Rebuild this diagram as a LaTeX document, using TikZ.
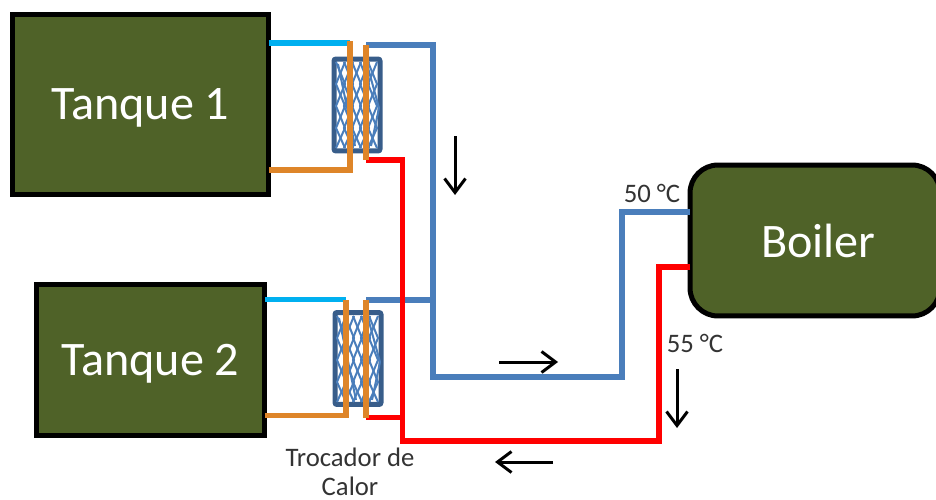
\documentclass[tikz,border=0pt]{standalone}
\usepackage{fontspec}
\setmainfont{Carlito}
\usepackage{tikz}
\usetikzlibrary{calc,arrows.meta}
\definecolor{tankolive}{HTML}{4F6228}
\definecolor{pipeblue}{HTML}{4A7EBB}
\definecolor{pipecyan}{HTML}{00B0F0}
\definecolor{pipeorange}{HTML}{DE8529}
\definecolor{hxblue}{HTML}{385D8A}
\definecolor{labelgray}{HTML}{333333}
\tikzset{
	tank/.style={draw=black, fill=tankolive, line width=0.1cm, text=white, inner sep=0, outer sep=0, font=\fontsize{27.4}{27.4}\selectfont},
	lowtext/.style={text height=0.7cm, text depth=0.08cm},
	hxbox/.style={draw=hxblue, fill=white, line width=0.1cm, rounded corners=0.04cm, inner sep=0, minimum width=0.92cm, minimum height=1.84cm},
	pipe/.style={line width=0.11cm, line join=miter},
	flow/.style={-{Straight Barb[length=0.28cm, width=0.42cm]}, line width=0.06cm, black},
	templabel/.style={text=labelgray, inner sep=0, font=\fontsize{15.2}{15.2}\selectfont}
}
\def\hxcoil(#1,#2){
	\foreach \a in {3,11,...,35}{
		\draw[pipeblue, line width=0.04cm] ($(#1,#2)+(\a,4)$) -- ($(#1,#2)+(\a+9,26)$) -- ($(#1,#2)+(\a,48)$) -- ($(#1,#2)+(\a+9,70)$) -- ($(#1,#2)+(\a,90)$);
		\draw[pipeblue, line width=0.04cm] ($(#1,#2)+(\a+9,4)$) -- ($(#1,#2)+(\a,26)$) -- ($(#1,#2)+(\a+9,48)$) -- ($(#1,#2)+(\a,70)$) -- ($(#1,#2)+(\a+9,90)$);
	}
	\draw[pipeblue, line width=0.04cm] ($(#1,#2)+(5,6)$) -- ($(#1,#2)+(22,88)$);
	\draw[pipeblue, line width=0.04cm] ($(#1,#2)+(34,6)$) -- ($(#1,#2)+(46,50)$) -- ($(#1,#2)+(38,88)$);
}

\begin{document}
\begin{tikzpicture}[x=0.02cm, y=-0.02cm]
	%%%%% START %%%%%
	\useasboundingbox (0, 0) rectangle (936, 500);

	\node[tank, lowtext, minimum width=5.14cm, minimum height=3.62cm] (tank1) at (140.5, 104.5) {Tanque 1};
	\node[tank, lowtext, minimum width=4.58cm, minimum height=3.04cm] (tank2) at (150.5, 360) {Tanque 2};
	\node[tank, rounded corners=0.56cm, minimum width=5.0cm, minimum height=3.02cm] (boiler) at (815, 240.5) {\hspace*{0.14cm}Boiler};

	\node[hxbox] (hx1) at (357, 105) {};
	\node[hxbox] (hx2) at (358, 358.5) {};
	\hxcoil(333,58)
	\hxcoil(334,312)

	\coordinate (c1in) at (350, 43);
	\coordinate (c1out) at (350, 170);
	\coordinate (h1top) at (366, 45);
	\coordinate (h1bot) at (366, 160);
	\coordinate (c2in) at (346, 299.5);
	\coordinate (c2out) at (346, 415.5);
	\coordinate (h2top) at (366, 300);
	\coordinate (h2bot) at (366, 417.5);
	\coordinate (bluetee) at (433, 300);
	\coordinate (redtee) at (402.5, 417.5);
	\coordinate (bluelow) at (433, 377);
	\coordinate (redlow) at (402.5, 441);

	% cold side
	\draw[pipe, pipecyan] (tank1.east |- c1in) -- (c1in);
	\draw[pipe, pipecyan] (tank2.east |- c2in) -- (c2in);

	% return line
	\draw[pipe, pipeblue] (h1top) -- (bluetee |- h1top) -- (bluelow) -- (622, 377) -- (622, 212) -- (boiler.west |- 0, 212);
	\draw[pipe, pipeblue] (h2top) -- (bluetee);

	% supply line
	\draw[pipe, red] (boiler.west |- 0, 267) -- (659, 267) -- (659, 441) -- (redlow) -- (402.5, 160) -- (h1bot);
	\draw[pipe, red] (redtee) -- (h2bot);

	% orange loops
	\draw[pipe, pipeorange] (tank1.east |- c1out) -- (c1out) -- (350, 41);
	\draw[pipe, pipeorange] (tank2.east |- c2out) -- (c2out) -- (346, 300);
	\draw[pipe, pipeorange] (h1top) -- (h1bot);
	\draw[pipe, pipeorange] (h2top) -- (h2bot);

	\coordinate (f1a) at (455, 136);
	\coordinate (f1b) at (455, 195);
	\coordinate (f2a) at (499, 362);
	\coordinate (f2b) at (558, 362);
	\coordinate (f3a) at (553, 462);
	\coordinate (f3b) at (495, 462);
	\coordinate (f4a) at (677, 369);
	\coordinate (f4b) at (677, 428);
	\draw[flow] (f1a) -- (f1b);
	\draw[flow] (f2a) -- (f2b);
	\draw[flow] (f3a) -- (f3b);
	\draw[flow] (f4a) -- (f4b);

	\node[templabel] (t50) at (652, 193) {50 °C};
	\node[templabel] (t55) at (695, 343) {55 °C};
	\node[templabel] (hxa) at (350, 457) {Trocador de};
	\node[templabel] (hxb) at (350, 486.5) {Calor};
	%%%%% END %%%%%
\end{tikzpicture}
\end{document}
